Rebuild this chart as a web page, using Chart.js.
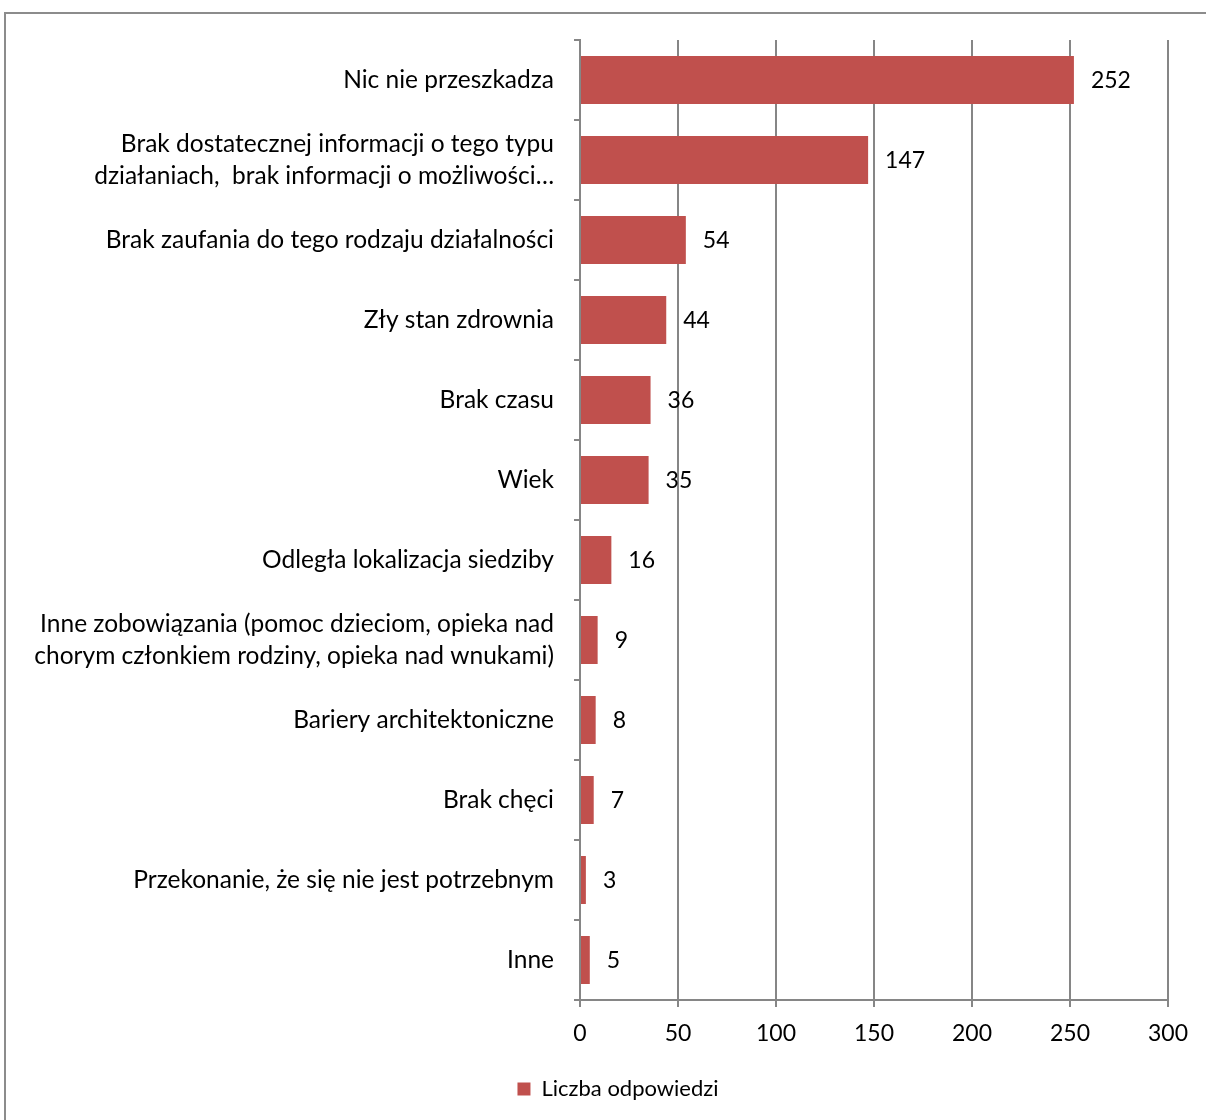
<!DOCTYPE html>
<html>
<head>
<meta charset="utf-8">
<script src="https://cdn.jsdelivr.net/npm/chart.js@4"></script>
<style>
  body { margin: 0; background: #fff; overflow: hidden; }
  #ramka { position: absolute; left: 4px; top: 12px; width: 1260px; height: 1140px; border: 2px solid #8c8c8c; }
  #box { position: absolute; left: 0; top: 0; width: 1240px; height: 1120px; }
</style>
</head>
<body>
<div id="ramka"></div>
<div id="box"><canvas id="grafico"></canvas></div>
<script>
const kategorie = [
  "Nic nie przeszkadza",
  ["Brak dostatecznej informacji o tego typu", "działaniach,  brak informacji o możliwości…"],
  "Brak zaufania do tego rodzaju działalności",
  "Zły stan zdrownia",
  "Brak czasu",
  "Wiek",
  "Odległa lokalizacja siedziby",
  ["Inne zobowiązania (pomoc dzieciom, opieka nad", "chorym członkiem rodziny, opieka nad wnukami)"],
  "Bariery architektoniczne",
  "Brak chęci",
  "Przekonanie, że się nie jest potrzebnym",
  "Inne"
];
const odpowiedzi = [252, 147, 54, 44, 36, 35, 16, 9, 8, 7, 3, 5];
const serie = "Liczba odpowiedzi";
const osX = [0, 50, 100, 150, 200, 250, 300];

const fonte = "Lato, 'Liberation Sans', sans-serif";

const etykiety = {
  id: "etykiety",
  afterDatasetsDraw(chart) {
    const ctx = chart.ctx;
    const meta = chart.getDatasetMeta(0);
    ctx.save();
    ctx.font = "23px " + fonte;
    ctx.fillStyle = "#000";
    ctx.textAlign = "left";
    ctx.textBaseline = "middle";
    meta.data.forEach((bar, i) => {
      ctx.fillText(odpowiedzi[i], bar.x + 17, bar.y + 1);
    });
    ctx.restore();
  }
};

// legenda przesunieta na srodek calego wykresu
const legendaPrzesun = {
  id: "legendaPrzesun",
  afterLayout(chart) {
    chart.legend.left += 34;
    chart.legend.right += 34;
  }
};

new Chart(document.getElementById("grafico"), {
  type: "bar",
  data: {
    labels: kategorie,
    datasets: [{
      label: serie,
      data: odpowiedzi,
      backgroundColor: "#C0504D",
      barPercentage: 0.6,
      categoryPercentage: 1.0
    }]
  },
  options: {
    indexAxis: "y",
    responsive: true,
    maintainAspectRatio: false,
    animation: false,
    layout: { padding: { top: 40, right: 72, left: 0, bottom: 10 } },
    scales: {
      x: {
        min: 0,
        max: 300,
        afterBuildTicks: s => { s.ticks = osX.map(v => ({ value: v })); },
        afterFit: s => { s.height = 68; },
        grid: { color: "#868686", lineWidth: 2, tickLength: 7 },
        border: { color: "#868686", width: 2 },
        ticks: { color: "#000", font: { family: fonte, size: 23 }, padding: 13 }
      },
      y: {
        afterFit: s => { s.width = 580; },
        grid: { drawOnChartArea: false, color: "#868686", lineWidth: 2, tickLength: 6, offset: true },
        border: { color: "#868686", width: 2 },
        ticks: { color: "#000", font: { family: fonte, size: 24.5, lineHeight: 1.33 }, padding: 20, autoSkip: false }
      }
    },
    plugins: {
      legend: {
        position: "bottom",
        labels: { color: "#000", font: { family: fonte, size: 22 }, boxWidth: 13, boxHeight: 13, padding: 10 }
      },
      tooltip: { enabled: false }
    }
  },
  plugins: [etykiety, legendaPrzesun]
});
</script>
</body>
</html>
